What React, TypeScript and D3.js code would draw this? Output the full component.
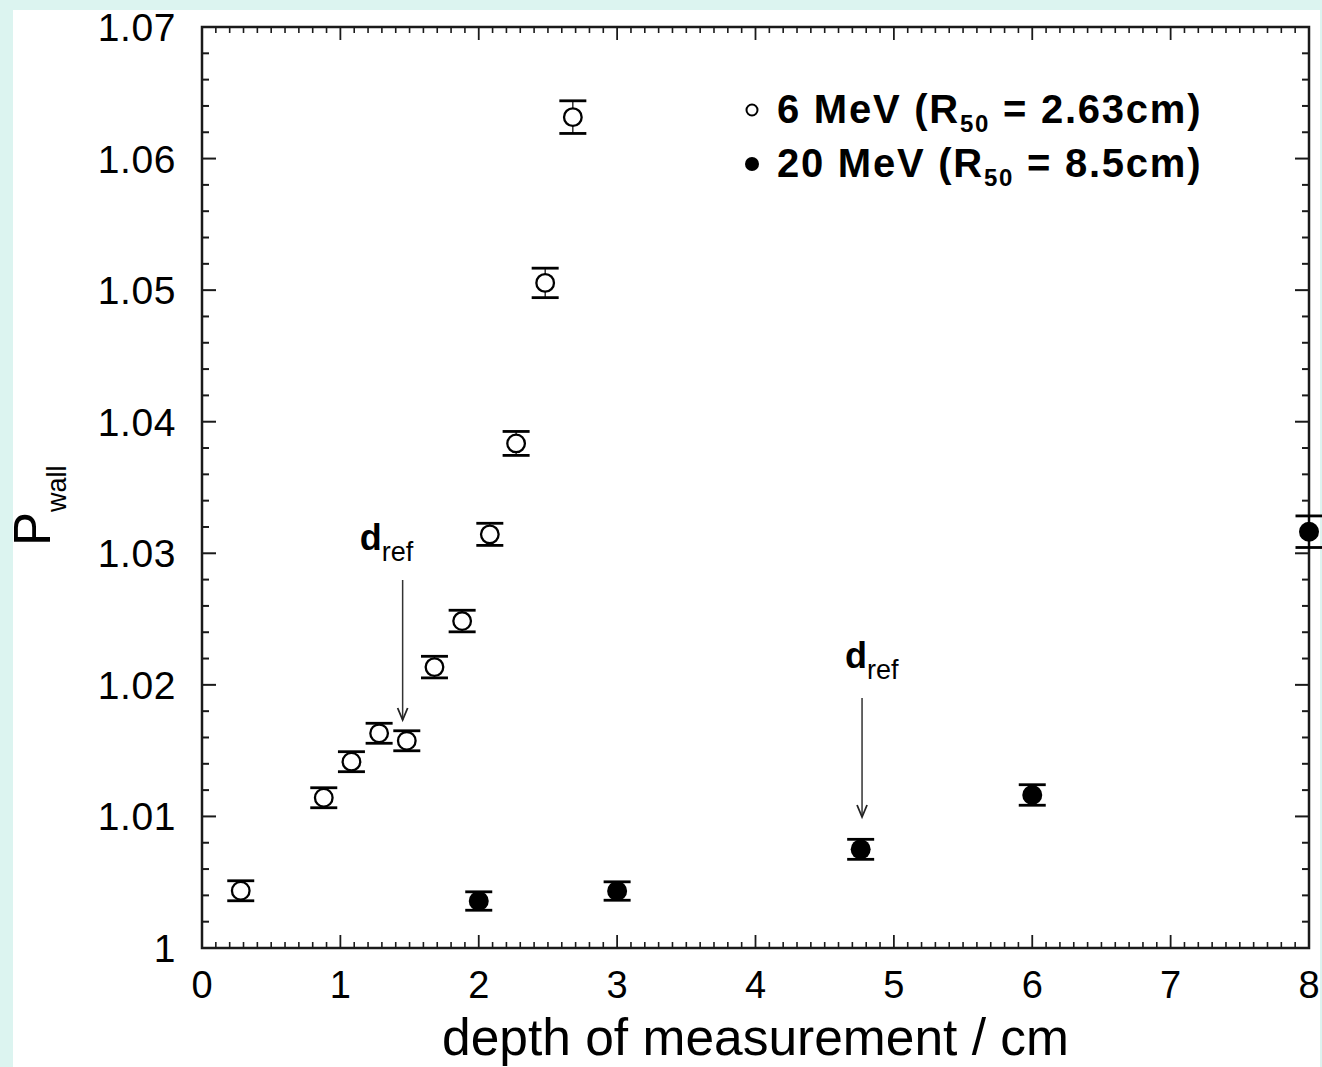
import React from "react";
import * as d3 from "d3";

const depth6 = [0.28, 0.88, 1.08, 1.28, 1.48, 1.68, 1.88, 2.08, 2.27, 2.48, 2.68];
const pwall6 = [1.00435, 1.01142, 1.01416, 1.01632, 1.01575, 1.02135, 1.02485, 1.03144, 1.03835, 1.05055, 1.06315];
const err6 = [0.00076, 0.00076, 0.00076, 0.00076, 0.00076, 0.00082, 0.00082, 0.00084, 0.00091, 0.00112, 0.00124];

const depth20 = [2.0, 3.0, 4.76, 6.0, 8.0];
const pwall20 = [1.00357, 1.00433, 1.0075, 1.01163, 1.03164];
const err20 = [0.0007, 0.0007, 0.00076, 0.00078, 0.0012];

const xTicks = [0, 1, 2, 3, 4, 5, 6, 7, 8];
const yTicks = [1, 1.01, 1.02, 1.03, 1.04, 1.05, 1.06, 1.07];
const drefDepths = [1.45, 4.77];

const W = 1322;
const H = 1067;
const m = { left: 202, right: 1309, top: 27, bottom: 948 };
const FONT = "'Liberation Sans', Arial, Helvetica, sans-serif";

export default function App() {
  const x = d3.scaleLinear().domain([0, 8]).range([m.left, m.right]);
  const y = d3.scaleLinear().domain([1, 1.07]).range([m.bottom, m.top]);

  const xMinor = d3.range(0, 80).map((i) => i / 10).filter((v) => Math.abs(v - Math.round(v)) > 1e-6);
  const yMinor = d3.range(0, 35).map((i) => 1 + i * 0.002).filter((v) => Math.abs(v * 100 - Math.round(v * 100)) > 1e-6);

  const axisColor = "#1a1a1a";
  const sw = 2.5;

  const errBar = (cx: number, v: number, e: number, key: string) => {
    const yt = y(v + e);
    const yb = y(v - e);
    return (
      <g key={key}>
        <line x1={cx} x2={cx} y1={yt} y2={yb} stroke="#000" strokeWidth={1.2} />
        <line x1={cx - 13.5} x2={cx + 13.5} y1={yt} y2={yt} stroke="#000" strokeWidth={2.8} />
        <line x1={cx - 13.5} x2={cx + 13.5} y1={yb} y2={yb} stroke="#000" strokeWidth={2.8} />
      </g>
    );
  };

  const drefTextOffset = [-43, -17];
  const drefArrowStart = [580, 698];
  const drefArrowEnd = [720, 817];

  return (
    <svg width={W} height={H} style={{ position: "absolute", left: 0, top: 0 }} fontFamily={FONT}>
      <rect x={0} y={0} width={W} height={H} fill="#dcf4f0" />
      <rect x={13} y={10} width={1307} height={H - 10} fill="#ffffff" />

      {xMinor.map((v) => (
        <g key={"xm" + v}>
          <line x1={x(v)} x2={x(v)} y1={m.bottom} y2={m.bottom - 6} stroke={axisColor} strokeWidth={1.6} />
          <line x1={x(v)} x2={x(v)} y1={m.top} y2={m.top + 6} stroke={axisColor} strokeWidth={1.6} />
        </g>
      ))}
      {xTicks.map((v) => (
        <g key={"xM" + v}>
          <line x1={x(v)} x2={x(v)} y1={m.bottom} y2={m.bottom - 13} stroke={axisColor} strokeWidth={1.8} />
          <line x1={x(v)} x2={x(v)} y1={m.top} y2={m.top + 13} stroke={axisColor} strokeWidth={1.8} />
          <text x={x(v)} y={998} textAnchor="middle" fontSize={38} fill="#000">
            {v}
          </text>
        </g>
      ))}
      {yMinor.map((v) => (
        <g key={"ym" + v}>
          <line x1={m.left} x2={m.left + 7} y1={y(v)} y2={y(v)} stroke={axisColor} strokeWidth={2} />
          <line x1={m.right} x2={m.right - 7} y1={y(v)} y2={y(v)} stroke={axisColor} strokeWidth={2} />
        </g>
      ))}
      {yTicks.map((v) => (
        <g key={"yM" + v}>
          <line x1={m.left} x2={m.left + 14} y1={y(v)} y2={y(v)} stroke={axisColor} strokeWidth={2} />
          <line x1={m.right} x2={m.right - 14} y1={y(v)} y2={y(v)} stroke={axisColor} strokeWidth={2} />
          <text x={176} y={y(v)} dy="0.36em" textAnchor="end" fontSize={39} fill="#000" letterSpacing={0.6}>
            {v === 1 ? "1" : v.toFixed(2)}
          </text>
        </g>
      ))}

      <rect x={m.left} y={m.top} width={m.right - m.left} height={m.bottom - m.top} fill="none" stroke={axisColor} strokeWidth={sw} />

      <text x={(m.left + m.right) / 2} y={1055} textAnchor="middle" fontSize={51.5} fill="#000">
        depth of measurement / cm
      </text>
      <g transform={`translate(50, 546) rotate(-90)`}>
        <text x={0} y={0} fontSize={51} fill="#000">
          P
          <tspan fontSize={27} dy={16}>wall</tspan>
        </text>
      </g>

      {drefDepths.map((dv, i) => {
        const ax = x(dv);
        const yStart = drefArrowStart[i];
        const yEnd = drefArrowEnd[i];
        return (
          <g key={"dref" + i}>
            <text x={ax + drefTextOffset[i]} y={yStart - 30} fontSize={36} fontWeight="bold" fill="#000">
              d
              <tspan fontSize={27} fontWeight="normal" dy={11}>ref</tspan>
            </text>
            <line x1={ax} x2={ax} y1={yStart} y2={yEnd} stroke="#333" strokeWidth={1.5} />
            <path d={`M${ax - 5},${yEnd - 12} L${ax},${yEnd} L${ax + 5},${yEnd - 12}`} fill="none" stroke="#222" strokeWidth={1.8} />
          </g>
        );
      })}

      {depth6.map((dv, i) => (
        <g key={"p6" + i}>
          {errBar(x(dv), pwall6[i], err6[i], "e6" + i)}
          <circle cx={x(dv)} cy={y(pwall6[i])} r={8.8} fill="#fff" stroke="#000" strokeWidth={2.3} />
        </g>
      ))}

      {depth20.map((dv, i) => (
        <g key={"p20" + i}>
          {errBar(x(dv), pwall20[i], err20[i], "e20" + i)}
          <circle cx={x(dv)} cy={y(pwall20[i])} r={10} fill="#000" />
        </g>
      ))}

      <circle cx={752} cy={110} r={5.5} fill="#fff" stroke="#000" strokeWidth={2} />
      <text x={777} y={123} fontSize={40} fontWeight="bold" fill="#000" letterSpacing={1.75}>
        6 MeV (R<tspan fontSize={24} dy={9}>50</tspan>
        <tspan dy={-9}> = 2.63cm)</tspan>
      </text>
      <circle cx={752} cy={164} r={7} fill="#000" />
      <text x={777} y={177} fontSize={40} fontWeight="bold" fill="#000" letterSpacing={1.75}>
        20 MeV (R<tspan fontSize={24} dy={9}>50</tspan>
        <tspan dy={-9}> = 8.5cm)</tspan>
      </text>
    </svg>
  );
}
